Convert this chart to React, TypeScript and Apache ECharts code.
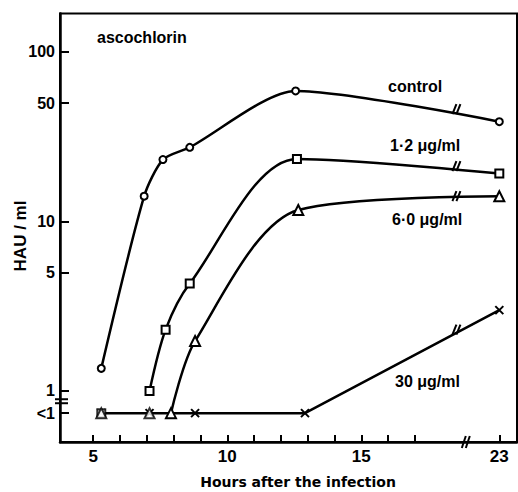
import React, { useEffect, useRef } from "react";
import * as echarts from "echarts";

// ---- data (hours after infection, HAU/ml; "<1" = below detection) ----
const controlHours = [5.3, 6.9, 7.6, 8.6, 12.55, 23];
const controlHAU: (number | string)[] = [1.36, 14.1, 23.2, 27.4, 58.9, 38.8];

const conc12Hours = [7.1, 7.7, 8.6, 12.6, 23];
const conc12HAU: (number | string)[] = [1.0, 2.3, 4.3, 23.4, 19.2];
const conc12BelowHours = [5.3];

const conc60Hours = [7.9, 8.8, 12.65, 23];
const conc60HAU: (number | string)[] = ["<1", 1.97, 11.7, 14.1];
const conc60BelowHours = [5.3, 7.1];

const conc30Hours = [5.3, 7.1, 8.8, 12.9, 23];
const conc30HAU: (number | string)[] = ["<1", "<1", "<1", "<1", 3.0];

// HAU values where each curve is cut by the break mark
const breakMarkHAU = [46, 21.2, 14.1, 2.3];

const xTickHours = [5, 6, 7, 8, 9, 10, 11, 12, 13, 14, 15, 16, 17, 23];
const xLabelHours = [5, 10, 15, 23];
const yTickValues: (number | string)[] = ["<1", 1, 5, 10, 50, 100];

// ---- axis helpers ----
const LT1 = 0.74; // plotted level of "<1"
const BREAK_AT = 19; // hours after which the axis is broken
const AXIS_SKIP = 2.85; // hours removed by the break
const AXIS_BREAK_X = 18.9;
const CURVE_BREAK_X = 18.55;
const X_MIN = 3.76;
const X_MAX = 20.81;
const Y_MIN = 0.5;
const Y_MAX = 168.7;

const xPos = (h: number) => (h > BREAK_AT ? h - AXIS_SKIP : h);
const yVal = (v: number | string) => (v === "<1" ? LT1 : (v as number));

const FONT = "Liberation Sans";

export default function App() {
  const ref = useRef<HTMLDivElement>(null);
  useEffect(() => {
    if (!ref.current) return;
    const chart = echarts.init(ref.current, null, { renderer: "svg" });

    const hollow = {
      color: "#fff",
      borderColor: "#000",
      borderWidth: 2,
    };
    const lineStyle = { color: "#000", width: 2.5 };
    const xSymbol = "path://M0,0L10,10M10,0L0,10";

    const toData = (hs: number[], vs: (number | string)[]) =>
      hs.map((h, i) => [xPos(h), yVal(vs[i])]);

    const breakData: any[] = breakMarkHAU.map((v) => [CURVE_BREAK_X, v, 0]);
    breakData.push([AXIS_BREAK_X, Y_MIN, 1]); // x axis break
    breakData.push([X_MIN, 0.87, 2]); // y axis break

    chart.setOption({
      animation: false,
      backgroundColor: "#fff",
      grid: {
        left: 60,
        right: 1,
        top: 13.5,
        bottom: 50,
        show: true,
        borderColor: "#000",
        borderWidth: 2,
      },
      xAxis: {
        type: "value",
        min: X_MIN,
        max: X_MAX,
        axisLine: { lineStyle: { color: "#000", width: 2.5 } },
        axisTick: {
          inside: true,
          length: 7,
          lineStyle: { color: "#000", width: 2 },
          customValues: xTickHours.map(xPos),
        },
        axisLabel: {
          customValues: xLabelHours.map(xPos),
          formatter: (v: number) =>
            String(Math.round(v > BREAK_AT ? v + AXIS_SKIP : v)),
          color: "#000",
          fontFamily: FONT,
          fontWeight: "bold",
          fontSize: 17,
          margin: 6,
        },
        splitLine: { show: false },
      },
      yAxis: {
        type: "log",
        logBase: 10,
        min: Y_MIN,
        max: Y_MAX,
        axisLine: { lineStyle: { color: "#000", width: 2.5 } },
        axisTick: {
          inside: true,
          length: 9,
          lineStyle: { color: "#000", width: 2 },
          customValues: yTickValues.map(yVal),
        },
        axisLabel: {
          customValues: yTickValues.map(yVal),
          formatter: (v: number) => (v < 0.99 ? "<1" : String(Math.round(v))),
          color: "#000",
          fontFamily: FONT,
          fontWeight: "bold",
          fontSize: 16,
          margin: 5,
        },
        splitLine: { show: false },
        minorTick: { show: false },
      },
      series: [
        {
          name: "control",
          type: "line",
          data: toData(controlHours, controlHAU),
          smooth: 0.25,
          symbol: "circle",
          symbolSize: 7,
          itemStyle: hollow,
          lineStyle,
          z: 3,
        },
        {
          name: "1·2 μg/ml",
          type: "line",
          data: toData(conc12Hours, conc12HAU),
          smooth: 0.3,
          symbol: "rect",
          symbolSize: 8,
          itemStyle: hollow,
          lineStyle,
          z: 3,
        },
        {
          name: "6·0 μg/ml",
          type: "line",
          data: toData(conc60Hours, conc60HAU),
          smooth: 0.3,
          symbol: "triangle",
          symbolSize: 10,
          itemStyle: hollow,
          lineStyle,
          z: 3,
        },
        {
          name: "30 μg/ml",
          type: "line",
          data: toData(conc30Hours, conc30HAU),
          smooth: false,
          symbol: xSymbol,
          symbolSize: 8,
          itemStyle: { color: "#000", borderColor: "#000", borderWidth: 2 },
          lineStyle,
          z: 2,
        },
        {
          name: "1·2 μg/ml <1",
          type: "scatter",
          data: conc12BelowHours.map((h) => [xPos(h), LT1]),
          symbol: "rect",
          symbolSize: 8,
          itemStyle: hollow,
          z: 4,
        },
        {
          name: "6·0 μg/ml <1",
          type: "scatter",
          data: conc60BelowHours.map((h) => [xPos(h), LT1]),
          symbol: "triangle",
          symbolSize: 10,
          itemStyle: hollow,
          z: 4,
        },
        {
          name: "breaks",
          type: "custom",
          data: breakData,
          z: 5,
          renderItem: (params: any, api: any) => {
            const p = api.coord([api.value(0), api.value(1)]);
            const kind = api.value(2);
            const st = { stroke: "#000", lineWidth: 2 };
            if (kind === 2) {
              return {
                type: "group",
                children: [
                  { type: "line", shape: { x1: p[0] - 5, y1: p[1] - 2, x2: p[0] + 8, y2: p[1] - 2 }, style: st },
                  { type: "line", shape: { x1: p[0] - 5, y1: p[1] + 2, x2: p[0] + 8, y2: p[1] + 2 }, style: st },
                ],
              };
            }
            const h = kind === 1 ? 6 : 5;
            return {
              type: "group",
              children: [
                { type: "line", shape: { x1: p[0] - 4, y1: p[1] + h, x2: p[0], y2: p[1] - h }, style: st },
                { type: "line", shape: { x1: p[0], y1: p[1] + h, x2: p[0] + 4, y2: p[1] - h }, style: st },
              ],
            };
          },
        },
      ],
      graphic: [
        {
          type: "text",
          left: 97,
          top: 29,
          style: { text: "ascochlorin", font: `bold 16px "${FONT}"`, fill: "#000" },
        },
        {
          type: "text",
          x: 388,
          y: 86,
          style: { text: "control", font: `bold 16px "${FONT}"`, fill: "#000", verticalAlign: "middle" },
        },
        {
          type: "text",
          x: 390,
          y: 145,
          style: { text: "1·2 μg/ml", font: `bold 16px "${FONT}"`, fill: "#000", verticalAlign: "middle" },
        },
        {
          type: "text",
          x: 392,
          y: 219,
          style: { text: "6·0 μg/ml", font: `bold 16px "${FONT}"`, fill: "#000", verticalAlign: "middle" },
        },
        {
          type: "text",
          x: 395,
          y: 381,
          style: { text: "30 μg/ml", font: `bold 16px "${FONT}"`, fill: "#000", verticalAlign: "middle" },
        },
        {
          type: "text",
          x: 20,
          y: 236,
          rotation: Math.PI / 2,
          style: {
            text: "HAU / ml",
            font: `bold 17px "${FONT}"`,
            fill: "#000",
            align: "center",
            verticalAlign: "middle",
          },
        },
        {
          type: "text",
          x: 298,
          y: 482,
          style: {
            text: "Hours after the infection",
            font: `bold 14px "DejaVu Sans"`,
            fill: "#000",
            align: "center",
            verticalAlign: "middle",
          },
        },
      ],
    });
    return () => chart.dispose();
  }, []);
  return <div ref={ref} style={{ width: 518, height: 492, position: "absolute", left: 0, top: 0 }} />;
}
